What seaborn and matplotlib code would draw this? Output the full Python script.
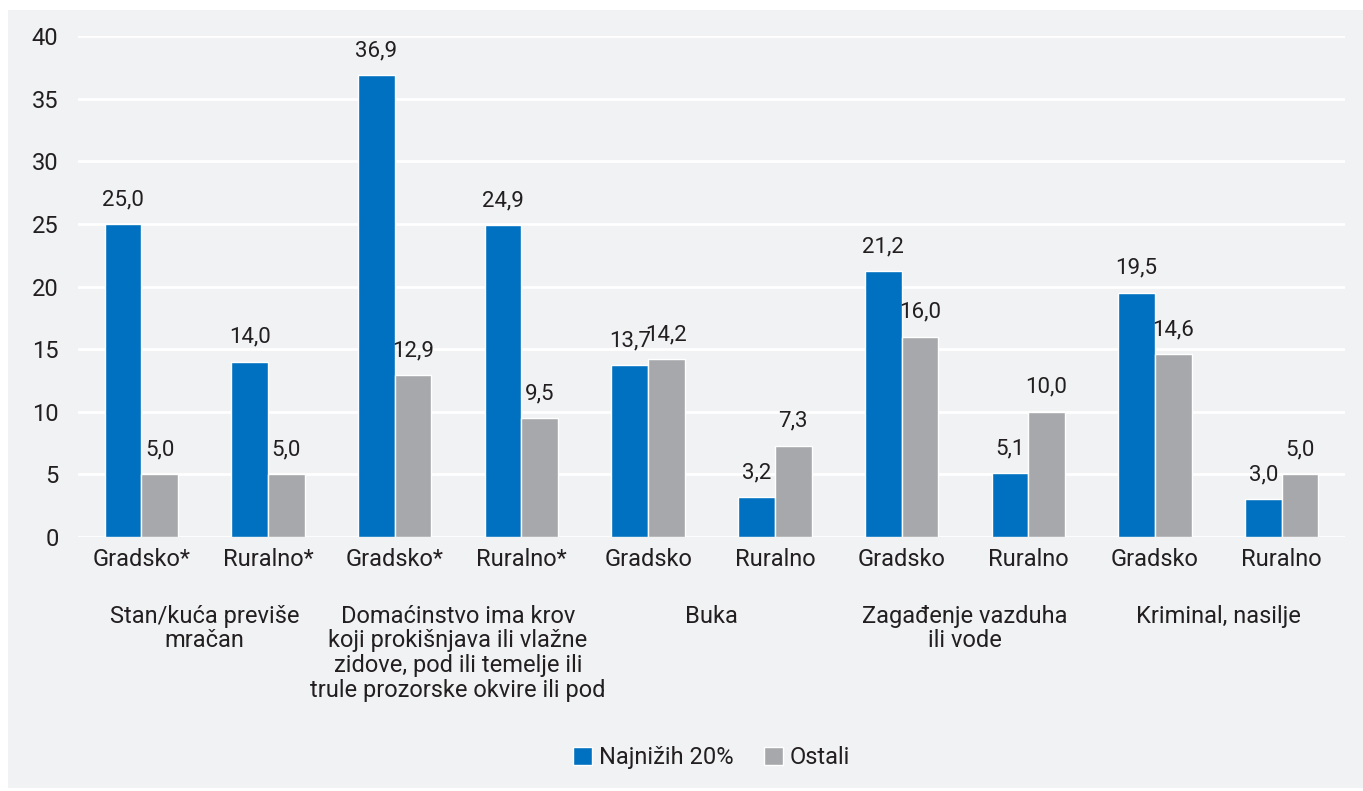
import pandas as pd
import seaborn as sns
import matplotlib.pyplot as plt
import matplotlib.transforms as mtransforms

# Data
areas = ['Gradsko*', 'Ruralno*', 'Gradsko*', 'Ruralno*', 'Gradsko', 'Ruralno',
         'Gradsko', 'Ruralno', 'Gradsko', 'Ruralno']
groups = ['Stan/kuća previše\nmračan',
          'Domaćinstvo ima krov\nkoji prokišnjava ili vlažne\nzidove, pod ili temelje ili\ntrule prozorske okvire ili pod',
          'Buka',
          'Zagađenje vazduha\nili vode',
          'Kriminal, nasilje']
lowest20 = [25.0, 14.0, 36.9, 24.9, 13.7, 3.2, 21.2, 5.1, 19.5, 3.0]
others = [5.0, 5.0, 12.9, 9.5, 14.2, 7.3, 16.0, 10.0, 14.6, 5.0]
series = ['Najnižih 20%', 'Ostali']
colors = ['#0070C0', '#A7A8AB']

ids = [f'{i}' for i in range(len(areas))]
df = pd.DataFrame({'id': ids * 2,
                   'series': [series[0]] * len(ids) + [series[1]] * len(ids),
                   'value': lowest20 + others})

sns.set_style('white')
plt.rcParams['font.family'] = ['Liberation Sans Narrow', 'Roboto', 'DejaVu Sans']
bg = '#F1F2F4'
txt = '#231F20'

fig = plt.figure(figsize=(13.63, 7.91), dpi=100, facecolor='white')
# light grey panel behind the whole chart
fig.patches.append(plt.Rectangle((8 / 1363, 3 / 791), 1 - 8 / 1363, 1 - 13 / 791,
                                 transform=fig.transFigure, facecolor=bg,
                                 edgecolor='none', zorder=-10))
ax = fig.add_axes([78 / 1363, 1 - 537 / 791, 1267 / 1363, 501 / 791])
ax.set_facecolor(bg)

sns.barplot(data=df, x='id', y='value', hue='series', palette=colors,
            width=0.58, saturation=1, ax=ax, legend=True)

for cont in ax.containers:
    ax.bar_label(cont, labels=[f'{v:.1f}'.replace('.', ',') for v in cont.datavalues],
                 padding=10, fontsize=16, color=txt)

ax.set_ylim(0, 40)
ax.set_yticks(range(0, 41, 5))
ax.yaxis.grid(True, color='white', linewidth=2)
ax.set_axisbelow(True)
for s in ax.spines.values():
    s.set_visible(False)
ax.set_xlim(-0.5, len(areas) - 0.5)
ax.set_xticks(range(len(areas)))
ax.set_xticklabels(areas)
ax.tick_params(axis='both', length=0, labelsize=17, labelcolor=txt)
ax.tick_params(axis='y', pad=14)
ax.tick_params(axis='x', pad=8)
ax.set_xlabel('')
ax.set_ylabel('')

# second level of category labels
trans = mtransforms.blended_transform_factory(ax.transData, ax.transAxes)
for i, g in enumerate(groups):
    ax.text(2 * i + 0.5, -0.135, g, transform=trans, ha='center', va='top',
            fontsize=17, color=txt, linespacing=1.1)

ax.legend(loc='center', bbox_to_anchor=(0.5, -0.44), ncol=2, frameon=False,
          fontsize=17, handlelength=0.8, handleheight=0.8, handletextpad=0.3,
          columnspacing=1.3, labelcolor=txt)

fig.savefig('out.png', dpi=100, facecolor='white')
